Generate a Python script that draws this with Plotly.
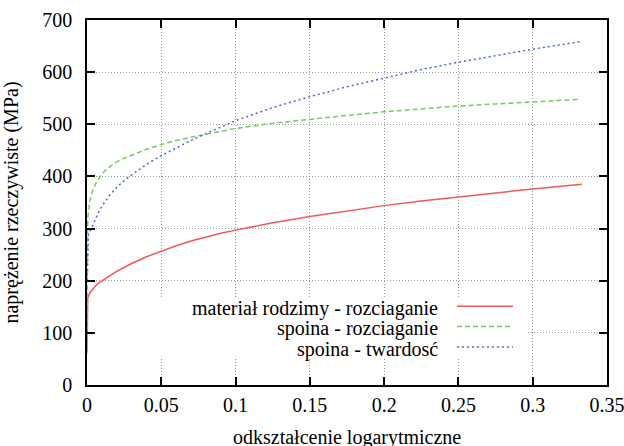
import plotly.graph_objects as go

# ---- data ----
red_x = [0, 0.0005, 0.002, 0.004, 0.006, 0.008, 0.01, 0.015, 0.02, 0.025, 0.03, 0.04, 0.05, 0.06, 0.07, 0.08, 0.09,
         0.1, 0.125, 0.15, 0.175, 0.2, 0.225, 0.25, 0.275, 0.3, 0.333]
red_y = [65, 167, 177, 185, 191, 196, 200, 209, 218, 226, 233, 246, 257, 267, 276, 284, 291,
         297, 311, 323, 334, 344, 353, 361, 369, 376, 385]

green_x = [0, 0.0005, 0.002, 0.004, 0.006, 0.008, 0.01, 0.015, 0.02, 0.025, 0.03, 0.04, 0.05, 0.06, 0.07, 0.08, 0.09,
           0.1, 0.125, 0.15, 0.175, 0.2, 0.225, 0.25, 0.275, 0.3, 0.332]
green_y = [60, 320, 355, 374, 387, 397, 405, 418, 428, 435, 441, 452, 461, 469, 475, 481, 487,
           492, 502, 510, 517, 524, 530, 535, 539, 543, 548]

blue_x = [0, 0.001, 0.003, 0.005, 0.0075, 0.01, 0.015, 0.02, 0.025, 0.03, 0.04, 0.05, 0.06, 0.07, 0.08, 0.09,
          0.1, 0.125, 0.15, 0.175, 0.2, 0.225, 0.25, 0.275, 0.3, 0.333]
blue_y = [200, 290, 300, 314, 330, 343, 363, 379, 392, 403, 423, 440, 455, 469, 482, 495,
          507, 532, 553, 572, 589, 605, 619, 632, 644, 659]

series_names = ["materiał rodzimy - rozciaganie", "spoina - rozciaganie", "spoina - twardosć"]
x_ticks = [0, 0.05, 0.1, 0.15, 0.2, 0.25, 0.3, 0.35]
x_tick_labels = ["0", "0.05", "0.1", "0.15", "0.2", "0.25", "0.3", "0.35"]
y_ticks = [0, 100, 200, 300, 400, 500, 600, 700]

x_title = "odkształcenie logarytmiczne"
y_title = "naprężenie rzeczywiste (MPa)"

# ---- styles ----
FONT = "Liberation Serif"
FS = 20
colors = ["#f05858", "#78c868", "#4868d0"]
dashes = ["solid", "5px,3px", "2px,3px"]

fig = go.Figure()
for xs, ys, name, c, d in zip([red_x, green_x, blue_x], [red_y, green_y, blue_y],
                              series_names, colors, dashes):
    fig.add_trace(go.Scatter(x=xs, y=ys, mode="lines", name=name,
                             line=dict(color=c, width=1.5, dash=d), showlegend=False))

# opaque key box (white, above grid, below curves)
fig.add_shape(type="rect", xref="x", yref="y", x0=0.002, x1=0.297, y0=54, y1=169,
              fillcolor="white", line=dict(width=0), layer="between")

# key: text right-aligned, sample line on the right
row_y = [147, 108, 69]
for name, c, d, yy in zip(series_names, colors, dashes, row_y):
    fig.add_annotation(x=0.2376, y=yy, xref="x", yref="y", text=name, showarrow=False,
                       xanchor="right", yanchor="middle",
                       font=dict(family=FONT, size=FS, color="black"))
    fig.add_shape(type="line", xref="x", yref="y", x0=0.249, x1=0.2867, y0=yy + 4, y1=yy + 4,
                  line=dict(color=c, width=1.5, dash=d), layer="above")

# x-axis title placed like the reference (near the page's bottom edge)
fig.add_annotation(x=0.5, y=-0.1452, xref="paper", yref="paper", text=x_title, showarrow=False,
                   xanchor="center", yanchor="middle",
                   font=dict(family=FONT, size=FS, color="black"))

axis_common = dict(
    showline=True, linecolor="black", linewidth=1.5, mirror="ticks",
    ticks="inside", ticklen=8, tickwidth=1.5, tickcolor="black",
    showgrid=True, gridcolor="#999999", gridwidth=1, griddash="1px,2px",
    zeroline=False, automargin=False, ticklabeloverflow="allow",
    tickfont=dict(family=FONT, size=FS, color="black"),
)

fig.update_xaxes(range=[0, 0.35], tickvals=x_ticks, ticktext=x_tick_labels,
                 ticklabelstandoff=1, **axis_common)
fig.update_yaxes(range=[0, 700], tickvals=y_ticks,
                 title=dict(text=y_title, font=dict(family=FONT, size=FS, color="black"), standoff=20),
                 ticklabelstandoff=9, **axis_common)

fig.update_layout(
    width=624, height=446,
    margin=dict(l=87, r=17, t=20, b=61),
    paper_bgcolor="white", plot_bgcolor="white",
    font=dict(family=FONT, size=FS, color="black"),
    showlegend=False,
)

fig.write_html("out.html")
